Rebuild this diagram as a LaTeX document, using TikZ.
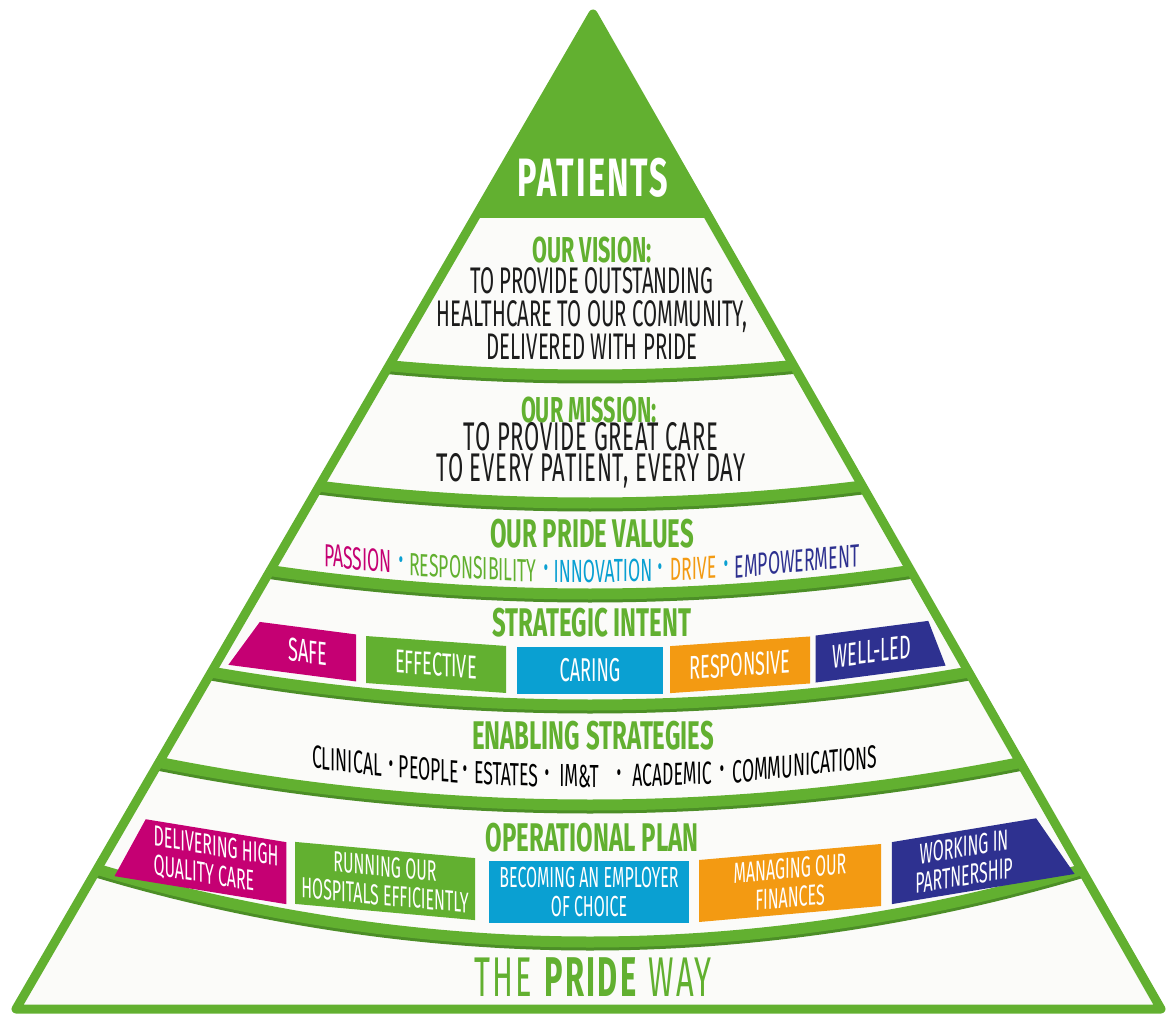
\documentclass[tikz,border=0pt]{standalone}
\usepackage{fontspec}
\usetikzlibrary{shapes.geometric}

\newfontfamily\pridebold[FakeStretch=0.6]{Fira Sans}
\newfontfamily\pridetext[FakeStretch=0.55]{Fira Sans}

\definecolor{pgreen}{HTML}{62B030}
\definecolor{pshade}{HTML}{4C8E27}
\definecolor{ppanel}{HTML}{FBFBF9}
\definecolor{pmagenta}{HTML}{C50073}
\definecolor{pcyan}{HTML}{0AA0D2}
\definecolor{porange}{HTML}{F39A12}
\definecolor{pnavy}{HTML}{2E3190}
\definecolor{pink}{HTML}{1C1C1C}

\begin{document}
\begin{tikzpicture}[x=1pt,y=-1pt,
    band/.style={draw=pgreen,line width=11,preaction={draw=pshade,line width=11,transform canvas={yshift=-3pt}}},
    heading/.style={text=pgreen,font=\pridebold\bfseries\fontsize{#1}{#1}\selectfont,inner sep=0},
    heading/.default=40,
    body/.style={text=pink,font=\pridetext\fontsize{37}{33}\selectfont,align=center,inner sep=0},
    word/.style={font=\pridetext\fontsize{#1}{#1}\selectfont,inner sep=0},
    word/.default=32,
    sepdot/.style={font=\pridetext\fontsize{26}{26}\selectfont,inner sep=0},
    tile/.style={fill=#1,text=white,font=\pridetext\fontsize{33}{33}\selectfont,align=center,inner sep=0,minimum height=47},
    plan/.style={tile=#1,font=\pridetext\fontsize{29}{29}\selectfont,minimum height=62},
    cut left/.style={shape=trapezium,trapezium stretches=true,trapezium left angle=#1,trapezium right angle=90},
    cut right/.style={shape=trapezium,trapezium stretches=true,trapezium left angle=90,trapezium right angle=#1}]
\useasboundingbox (0,0) rectangle (1168,1016);

% the pyramid and its layers
\coordinate (top) at (593,14);
\coordinate (bl) at (16,1009);
\coordinate (br) at (1161,1009);
\fill[ppanel] (top) -- (bl) -- (br) -- cycle;
\begin{scope}
  \clip (top) -- (bl) -- (br) -- cycle;
  \fill[pgreen] (0,0) rectangle (1168,218);
  \draw[band] (349,361.6) parabola bend (590,375) (831,361.6);
  \draw[band] (278,480.6) parabola bend (590,503) (902,480.6);
  \draw[band] (231,564.4) parabola bend (590,594) (949,564.4);
  \draw[band] (172,664.8) parabola bend (590,705) (1008,664.8);
  \draw[band] (121,754.4) parabola bend (590,805) (1059,754.4);
  \draw[band] (58,857.1) parabola bend (590,942) (1122,857.1);
\end{scope}
\draw[pgreen,line width=9,line join=round] (top) -- (bl) -- (br) -- cycle;

\node[text=white,font=\pridebold\bfseries\fontsize{54}{54}\selectfont\addfontfeature{LetterSpace=4},inner sep=0] at (593,178) (patients) {PATIENTS};

% vision and mission
\node[heading=36] at (592,250) (vision) {OUR VISION:};
\node[body] at (592,314) (vision text) {TO PROVIDE OUTSTANDING\\HEALTHCARE TO OUR COMMUNITY,\\DELIVERED WITH PRIDE};
\node[heading=36] at (589,410) (mission) {OUR MISSION:};
\node[body,font=\pridetext\fontsize{40}{31}\selectfont\addfontfeature{LetterSpace=2}] at (591,455) (mission text) {TO PROVIDE GREAT CARE\\TO EVERY PATIENT, EVERY DAY};

% values, slanted along the band
\node[heading] at (592,534) (values) {OUR PRIDE VALUES};
\node[word,text=pmagenta,yslant=-0.107] at (358,558.6) (passion) {PASSION};
\node[sepdot,text=pcyan] at (401,562.8) (v1) {\textbullet};
\node[word,text=pgreen,yslant=-0.054] at (473,567.9) (responsibility) {RESPONSIBILITY};
\node[sepdot,text=pcyan] at (546,570.6) (v2) {\textbullet};
\node[word,text=pcyan,yslant=0.006] at (603,571) (innovation) {INNOVATION};
\node[sepdot,text=pcyan] at (660,569.9) (v3) {\textbullet};
\node[word,text=porange,yslant=0.047] at (693,568.6) (drive) {DRIVE};
\node[sepdot,text=pcyan] at (726,566.7) (v4) {\textbullet};
\node[word,text=pnavy,yslant=0.095] at (797,561.1) (empowerment) {EMPOWERMENT};

% strategic intent
\node[heading] at (592,623) (intent) {STRATEGIC INTENT};
\node[tile=pmagenta,cut left=61.7,minimum width=128,yslant=-0.130] at (308,651.7) (safe) {SAFE};
\node[tile=pgreen,minimum width=140,yslant=-0.071] at (436,664.5) (effective) {EFFECTIVE};
\node[tile=pcyan,minimum width=146] at (590,670) (caring) {CARING};
\node[tile=porange,minimum width=140,yslant=0.069] at (740,664.8) (responsive) {RESPONSIVE};
\node[tile=pnavy,cut right=62,minimum width=130,yslant=0.130] at (872,651.7) (well-led) {WELL-LED};

% enabling strategies
\node[heading] at (593,736) (enabling) {ENABLING STRATEGIES};
\node[word,yslant=-0.122] at (347,761.2) (clinical) {CLINICAL};
\node[sepdot] at (391,766.2) (e1) {\textbullet};
\node[word,yslant=-0.081] at (429,769.4) (people) {PEOPLE};
\node[sepdot] at (465,772) (e2) {\textbullet};
\node[word,yslant=-0.043] at (506,774.2) (estates) {ESTATES};
\node[sepdot] at (547,775.6) (e3) {\textbullet};
\node[word,yslant=-0.006] at (579,776) (imt) {IM\&T};
\node[sepdot] at (619,775.8) (e4) {\textbullet};
\node[word,yslant=0.041] at (672,774.3) (academic) {ACADEMIC};
\node[sepdot] at (722,771.6) (e5) {\textbullet};
\node[word,yslant=0.106] at (805,764.5) (communications) {COMMUNICATIONS};

% operational plan
\node[heading] at (592,838) (operational) {OPERATIONAL PLAN};
\node[plan=pmagenta,cut left=62.1,minimum width=172,yslant=-0.163,align=left] at (216,861.7) (quality) {DELIVERING HIGH\\QUALITY CARE};
\node[plan=pgreen,minimum width=180,yslant=-0.090] at (385,881) (running) {RUNNING OUR\\HOSPITALS EFFICIENTLY};
\node[plan=pcyan,minimum width=200] at (589,892) (employer) {BECOMING AN EMPLOYER\\OF CHOICE};
\node[plan=porange,minimum width=182,yslant=0.088] at (790,883) (finances) {MANAGING OUR\\FINANCES};
\node[plan=pnavy,cut right=62.4,minimum width=183,yslant=0.165] at (964,861.2) (partnership) {WORKING IN\\PARTNERSHIP};

\node[text=pgreen,font=\pridetext\fontsize{56}{56}\selectfont\addfontfeature{LetterSpace=4},inner sep=0] at (593,977) (pride way) {THE \textbf{PRIDE} WAY};
\end{tikzpicture}
\end{document}
